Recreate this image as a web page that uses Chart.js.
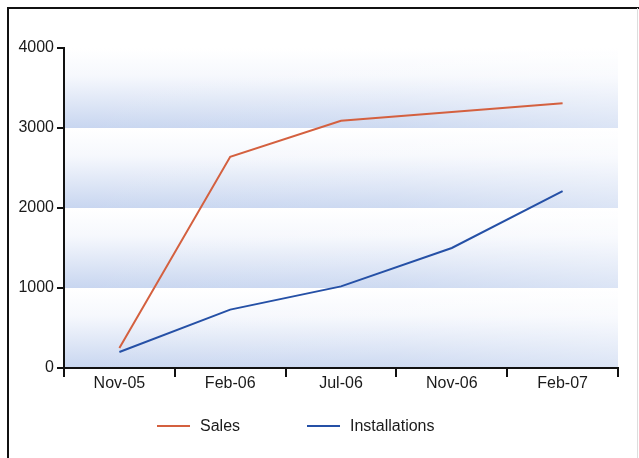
<!DOCTYPE html>
<html>
<head>
<meta charset="utf-8">
<script src="https://cdn.jsdelivr.net/npm/chart.js@4"></script>
<style>
  html, body { margin: 0; padding: 0; background: #fff; }
  #wrap { width: 639px; height: 458px; position: relative; }
</style>
</head>
<body>
<div id="wrap"><canvas id="grafica"></canvas></div>
<script>
const labelsMes = ["Nov-05", "Feb-06", "Jul-06", "Nov-06", "Feb-07"];
const dataSales = [250, 2640, 3090, 3200, 3310];
const dataInstall = [200, 730, 1020, 1500, 2210];
const yTicks = [0, 1000, 2000, 3000, 4000];

const colorText = "#1a1a1a";
const FONT = "'Liberation Sans', Arial, sans-serif";

/* =========================
   FONDO: bandas degradadas + marco
========================= */
const bandas = {
    id: "bandas",
    beforeDraw(chart) {
        const { ctx, chartArea, scales } = chart;
        const y = scales.y;
        ctx.save();
        // marco
        ctx.strokeStyle = "#111";
        ctx.lineWidth = 2;
        ctx.beginPath();
        ctx.moveTo(8, 470);
        ctx.lineTo(8, 8);
        ctx.lineTo(639, 8);
        ctx.stroke();
        ctx.strokeStyle = "#ddd";
        ctx.lineWidth = 1;
        ctx.beginPath();
        ctx.moveTo(637.5, 8);
        ctx.lineTo(637.5, 458);
        ctx.stroke();

        for (let i = 0; i < yTicks.length - 1; i++) {
            const top = y.getPixelForValue(yTicks[i + 1]);
            const bot = y.getPixelForValue(yTicks[i]);
            const g = ctx.createLinearGradient(0, top, 0, bot);
            g.addColorStop(0, "#ffffff");
            g.addColorStop(0.35, "#f6f8fd");
            g.addColorStop(1, "#c8d6f0");
            ctx.fillStyle = g;
            ctx.fillRect(chartArea.left, top, chartArea.right - chartArea.left, bot - top);
        }
        // se aclara hacia la derecha
        const h = ctx.createLinearGradient(chartArea.left, 0, chartArea.right, 0);
        h.addColorStop(0, "rgba(255,255,255,0)");
        h.addColorStop(0.6, "rgba(255,255,255,0.1)");
        h.addColorStop(1, "rgba(255,255,255,0.35)");
        ctx.fillStyle = h;
        ctx.fillRect(chartArea.left, chartArea.top, chartArea.right - chartArea.left, chartArea.bottom - chartArea.top);
        ctx.restore();
    }
};

/* =========================
   LEYENDA propia
========================= */
const leyenda = {
    id: "leyenda",
    afterDraw(chart) {
        const { ctx } = chart;
        const pos = [157, 307];
        ctx.save();
        ctx.font = "16px " + FONT;
        ctx.textBaseline = "middle";
        chart.data.datasets.forEach((ds, i) => {
            const x = pos[i];
            const yy = 426;
            ctx.strokeStyle = ds.borderColor;
            ctx.lineWidth = 2;
            ctx.beginPath();
            ctx.moveTo(x, yy);
            ctx.lineTo(x + 33, yy);
            ctx.stroke();
            ctx.fillStyle = colorText;
            ctx.fillText(ds.label, x + 43, yy + 1);
        });
        ctx.restore();
    }
};

new Chart(document.getElementById("grafica"), {
    type: "line",
    data: {
        labels: labelsMes,
        datasets: [{
            label: "Sales",
            data: dataSales,
            borderColor: "#d4603f",
            borderWidth: 2,
            pointRadius: 0,
            tension: 0
        }, {
            label: "Installations",
            data: dataInstall,
            borderColor: "#2550a6",
            borderWidth: 2,
            pointRadius: 0,
            tension: 0
        }]
    },
    options: {
        responsive: true,
        maintainAspectRatio: false,
        animation: false,
        layout: { padding: { left: 0, right: 21, top: 48, bottom: 48 } },
        plugins: {
            legend: { display: false },
            tooltip: { enabled: false }
        },
        scales: {
            x: {
                offset: true,
                afterFit(scale) { scale.height = 42; },
                grid: {
                    offset: true,
                    drawOnChartArea: false,
                    drawTicks: true,
                    tickLength: 9,
                    color: "#111",
                    lineWidth: 2
                },
                border: { display: true, color: "#111", width: 2 },
                ticks: { color: colorText, font: { size: 16, family: FONT }, padding: -3, maxRotation: 0 }
            },
            y: {
                min: 0,
                max: 4000,
                afterFit(scale) { scale.width = 64; },
                afterBuildTicks(scale) { scale.ticks = yTicks.map(v => ({ value: v })); },
                grid: {
                    drawOnChartArea: false,
                    drawTicks: true,
                    tickLength: 7,
                    color: "#111",
                    lineWidth: 2
                },
                border: { display: true, color: "#111", width: 2 },
                ticks: {
                    color: colorText,
                    font: { size: 16, family: FONT },
                    padding: 3,
                    callback: v => String(v)
                }
            }
        }
    },
    plugins: [bandas, leyenda]
});
</script>
</body>
</html>
